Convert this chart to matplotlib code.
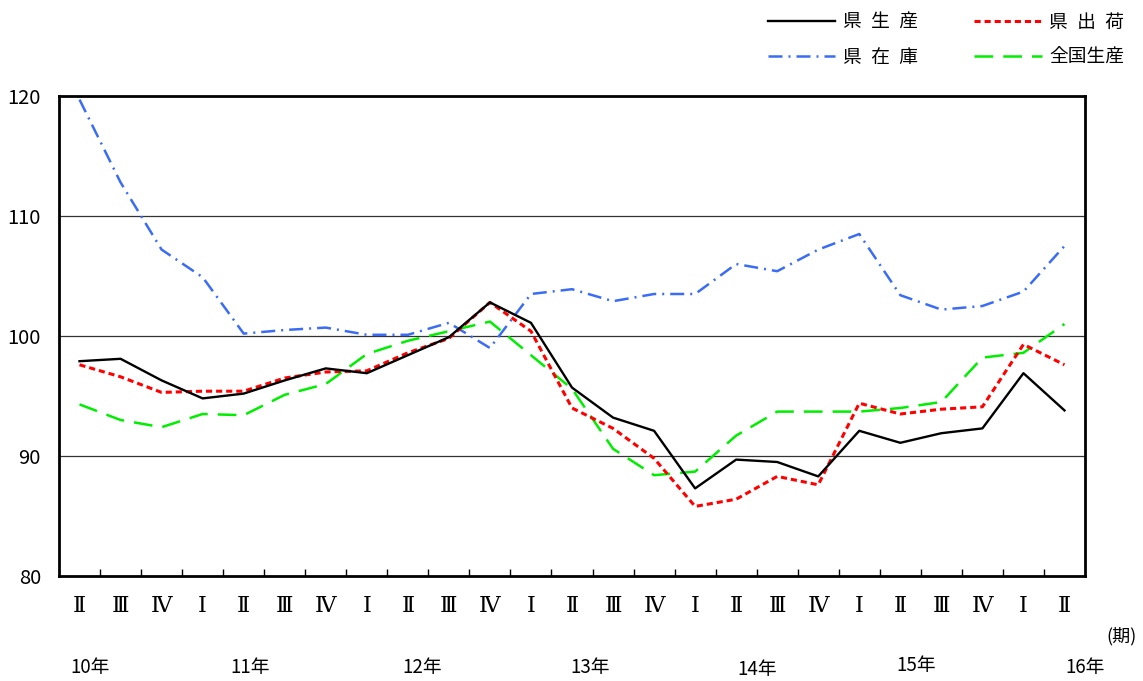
import matplotlib
matplotlib.use("Agg")
import matplotlib.pyplot as plt

plt.rcParams['font.family'] = ['Noto Sans CJK JP', 'DejaVu Sans']

quarters = ["Ⅱ", "Ⅲ", "Ⅳ", "Ⅰ", "Ⅱ", "Ⅲ", "Ⅳ", "Ⅰ", "Ⅱ", "Ⅲ", "Ⅳ", "Ⅰ", "Ⅱ",
            "Ⅲ", "Ⅳ", "Ⅰ", "Ⅱ", "Ⅲ", "Ⅳ", "Ⅰ", "Ⅱ", "Ⅲ", "Ⅳ", "Ⅰ", "Ⅱ"]
years = ["10年", "11年", "12年", "13年", "14年", "15年", "16年"]

ken_seisan = [97.9, 98.1, 96.3, 94.8, 95.2, 96.3, 97.3, 96.9, 98.4, 99.9, 102.8, 101.1, 95.7,
              93.2, 92.1, 87.3, 89.7, 89.5, 88.3, 92.1, 91.1, 91.9, 92.3, 96.9, 93.8]
ken_shukka = [97.6, 96.6, 95.3, 95.4, 95.4, 96.5, 97.0, 97.1, 98.6, 99.8, 102.8, 100.4, 94.0,
              92.3, 89.8, 85.8, 86.4, 88.3, 87.6, 94.4, 93.5, 93.9, 94.1, 99.3, 97.6]
ken_zaiko = [119.7, 112.8, 107.2, 104.9, 100.2, 100.5, 100.7, 100.1, 100.1, 101.1, 99.0, 103.5, 103.9,
             102.9, 103.5, 103.5, 106.0, 105.4, 107.2, 108.5, 103.4, 102.2, 102.5, 103.7, 107.5]
zenkoku = [94.3, 93.0, 92.4, 93.5, 93.4, 95.1, 96.0, 98.5, 99.6, 100.4, 101.2, 98.4, 95.6,
           90.6, 88.4, 88.7, 91.7, 93.7, 93.7, 93.7, 94.0, 94.5, 98.2, 98.6, 101.0]

W, H = 1143, 681
fig = plt.figure(figsize=(W / 100, H / 100), dpi=100)
L, R, T, B = 59, 1085, 96, 576
ax = fig.add_axes([L / W, 1 - B / H, (R - L) / W, (B - T) / H])

x = list(range(len(quarters)))
l_seisan, = ax.plot(x, ken_seisan, color='black', lw=1.7, zorder=5)
l_shukka, = ax.plot(x, ken_shukka, color='#ff0000', lw=2.2, dashes=(2.0, 1.3), zorder=4)
l_zaiko, = ax.plot(x, ken_zaiko, color='#3a6cf4', lw=1.8, dashes=(5.6, 2.4, 0.8, 2.4), zorder=3)
l_zenkoku, = ax.plot(x, zenkoku, color='#00ee00', lw=1.8, dashes=(7.5, 4.0), zorder=3)

ax.set_xlim(-0.5, len(quarters) - 0.5)
ax.set_ylim(80, 120)
ax.set_yticks([80, 90, 100, 110, 120])
ax.set_yticklabels(["80", "90", "100", "110", "120"], fontsize=14.5)
ax.tick_params(axis='y', length=0, pad=13)
ax.set_xticks(x)
ax.set_xticklabels(quarters, fontsize=16, family=['DejaVu Serif', 'Noto Sans CJK JP'])
ax.tick_params(axis='x', which='major', length=0, pad=14)
ax.set_xticks([i + 0.5 for i in range(len(quarters) - 1)], minor=True)
ax.tick_params(axis='x', which='minor', direction='in', length=5, width=1, color='black')
for v in [90, 100, 110]:
    ax.axhline(v, color='#333333', lw=0.9, zorder=1)
for s in ax.spines.values():
    s.set_linewidth(2)
    s.set_color('black')

year_pos = [(90, 668), (250, 668), (422, 668), (590, 668), (757, 670), (916, 666), (1085, 668)]
for label, (px, py) in zip(years, year_pos):
    fig.text(px / W, 1 - py / H, label, fontsize=13.5, ha='center', va='center')
fig.text(1122 / W, 1 - 636 / H, "(期)", fontsize=13, ha='center', va='center')

handles = [l_seisan, l_zaiko, l_shukka, l_zenkoku]
labels = ["県\u2002生\u2002産", "県\u2002在\u2002庫", "県\u2002出\u2002荷", "全国生産"]
fig.legend(handles, labels, ncol=2, loc='upper right', bbox_to_anchor=(1141 / W, 1 + 5 / H),
           frameon=False, fontsize=13.5, handlelength=3.6, handletextpad=0.4,
           columnspacing=3.0, labelspacing=0.75)

fig.savefig("out.png", dpi=100)
